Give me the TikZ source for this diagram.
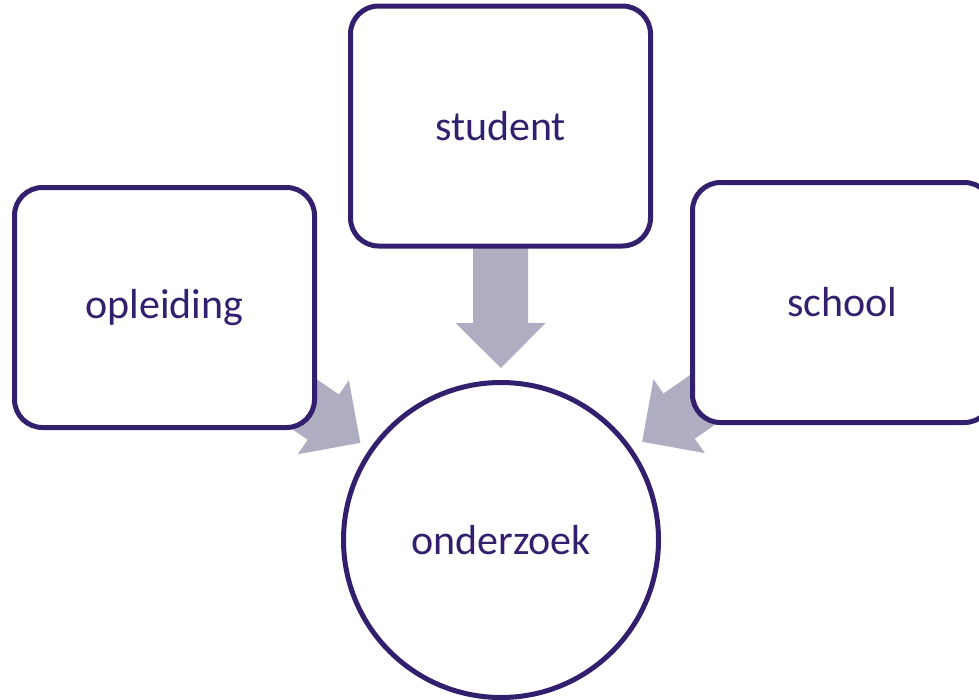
\documentclass[tikz,border=0pt]{standalone}
\usepackage{fontspec}
\setmainfont{Carlito}
\usetikzlibrary{arrows.meta,calc,backgrounds}
\definecolor{edge}{RGB}{50,32,110}
\definecolor{flow}{RGB}{175,173,193}
\tikzset{
  box/.style={draw=edge, line width=5pt, fill=white, rounded corners=28pt,
    minimum width=300pt, minimum height=240pt, inner sep=0pt,
    text=edge, font=\fontsize{42}{50}\selectfont},
  roundbox/.style={draw=edge, line width=5pt, fill=white, circle,
    minimum size=315pt, inner sep=0pt,
    text=edge, font=\fontsize{42}{50}\selectfont},
  bigarrow/.style={draw=flow, line width=55pt,
    -{Triangle[length=45pt 0, width=90pt 0, line width=0pt, fill=flow]}}
}
\begin{document}
\begin{tikzpicture}[x=1pt,y=-1pt]
\useasboundingbox (0,0) rectangle (979,699);
\clip (0,0) rectangle (979,699);
\node[box] (stu) at (500.5,126) {student};
\node[box] (opl) at (164.5,307.5) {opleiding};
\node[box] (sch) at (842.5,302.5) {school};
\node[roundbox] (onz) at (501,540) {onderzoek};
\coordinate (tstu) at ($(onz.center)!172pt!(stu.center)$);
\coordinate (topl) at ($(onz.center)!171pt!(opl.center)$);
\coordinate (tsch) at ($(onz.center)!172pt!(sch.center)$);
\begin{scope}[on background layer]
\draw[bigarrow] (stu.center) -- (tstu);
\draw[bigarrow] (opl.center) -- (topl);
\draw[bigarrow] (sch.center) -- (tsch);
\end{scope}
\end{tikzpicture}
\end{document}
